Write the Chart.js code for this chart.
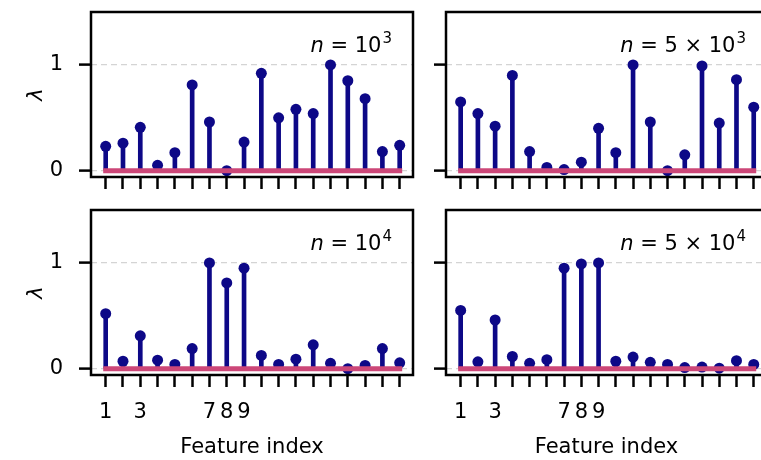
<!DOCTYPE html>
<html>
<head>
<meta charset="utf-8">
<script src="https://cdn.jsdelivr.net/npm/chart.js@4"></script>
<style>
  html, body { margin: 0; padding: 0; background: #fff; overflow: hidden; width: 761px; height: 460px; position: relative; }
  .box { position: absolute; overflow: visible; }
</style>
</head>
<body>
<div class="box" style="left:0;top:0;width:420px;height:200px"><canvas id="p1" width="420" height="200"></canvas></div>
<div class="box" style="left:420px;top:0;width:360px;height:200px"><canvas id="p2" width="360" height="200"></canvas></div>
<div class="box" style="left:0;top:200px;width:420px;height:260px"><canvas id="p3" width="420" height="260"></canvas></div>
<div class="box" style="left:420px;top:200px;width:360px;height:260px"><canvas id="p4" width="360" height="260"></canvas></div>
<script>
// feature indices and estimated lambda per sample size
const features = [1, 2, 3, 4, 5, 6, 7, 8, 9, 10, 11, 12, 13, 14, 15, 16, 17, 18];
const lambda_1e3 = [0.23, 0.26, 0.41, 0.05, 0.17, 0.81, 0.46, 0.00, 0.27, 0.92, 0.50, 0.58, 0.54, 1.00, 0.85, 0.68, 0.18, 0.24];
const lambda_5e3 = [0.65, 0.54, 0.42, 0.90, 0.18, 0.03, 0.01, 0.08, 0.40, 0.17, 1.00, 0.46, 0.00, 0.15, 0.99, 0.45, 0.86, 0.60];
const lambda_1e4 = [0.52, 0.07, 0.31, 0.08, 0.04, 0.19, 1.00, 0.81, 0.95, 0.125, 0.04, 0.09, 0.225, 0.05, 0.00, 0.03, 0.19, 0.055];
const lambda_5e4 = [0.55, 0.065, 0.46, 0.115, 0.05, 0.085, 0.95, 0.99, 1.00, 0.07, 0.11, 0.06, 0.04, 0.01, 0.015, 0.005, 0.075, 0.04];
const xTickLabels = [1, 3, 7, 8, 9];
const yTicks = [0, 1];

const navy = '#0d0887';
const pink = '#cc4778';
Chart.defaults.font.family = 'DejaVu Sans';
Chart.defaults.color = '#000';

// box around the plot area + the "n = ..." annotation
const frame = {
  id: 'frame',
  afterDraw(chart, args, opts) {
    const { ctx, chartArea: a } = chart;
    ctx.save();
    ctx.lineWidth = 2.5;
    ctx.strokeStyle = '#000';
    ctx.strokeRect(a.left, a.top, a.right - a.left, a.bottom - a.top);

    const base = a.top + 40;
    const fMain = '21px "DejaVu Sans"';
    const fIt = 'italic 21px "DejaVu Sans"';
    const fSup = '15px "DejaVu Sans"';
    ctx.fillStyle = '#000';
    ctx.textBaseline = 'alphabetic';
    ctx.font = fIt; const wN = ctx.measureText('n').width;
    ctx.font = fMain; const wM = ctx.measureText(opts.main).width;
    ctx.font = fSup; const wS = ctx.measureText(opts.sup).width;
    let x = a.right - 21 - (wN + wM + wS + 1);
    ctx.font = fIt; ctx.fillText('n', x, base); x += wN;
    ctx.font = fMain; ctx.fillText(opts.main, x, base); x += wM + 1;
    ctx.font = fSup; ctx.fillText(opts.sup, x, base - 9);
    ctx.restore();
  }
};

function panel(id, values, label, isLeft, isBottom) {
  const pts = features.map((f, i) => ({ x: f, y: values[i] }));
  const font = { size: 21 };
  new Chart(document.getElementById(id), {
    type: 'bar',
    data: {
      datasets: [
        {
          type: 'line',
          data: [{ x: features[0], y: 0 }, { x: features[features.length - 1], y: 0 }],
          borderColor: pink, borderWidth: 5, borderCapStyle: 'square',
          pointRadius: 0, order: 0
        },
        {
          type: 'scatter',
          data: pts,
          backgroundColor: navy, borderWidth: 0, pointRadius: 5.5, order: 1
        },
        {
          type: 'bar',
          data: pts,
          backgroundColor: navy, borderWidth: 0, barThickness: 4, order: 2
        }
      ]
    },
    options: {
      responsive: false,
      maintainAspectRatio: false,
      animation: false,
      layout: { autoPadding: false, padding: { top: isBottom ? 10 : 12, right: isLeft ? 7 : 13, left: 0, bottom: 0 } },
      plugins: {
        legend: { display: false },
        tooltip: { enabled: false },
        frame: label
      },
      scales: {
        x: {
          type: 'linear',
          offset: false,
          min: 0.15, max: 18.77,
          afterBuildTicks: s => { s.ticks = features.map(v => ({ value: v })); },
          afterFit: s => {
            s.height = isBottom ? 85 : 23;
            s.paddingLeft = 0; s.paddingRight = 0;
          },
          ticks: {
            autoSkip: false, maxRotation: 0, padding: 13, font,
            callback: v => (isBottom && xTickLabels.includes(v)) ? String(v) : ''
          },
          grid: { offset: false, drawOnChartArea: false, tickLength: 12, tickWidth: 2.5, tickColor: '#000' },
          border: { display: false },
          title: { display: isBottom, text: 'Feature index', font, padding: { top: 0, bottom: 0 } }
        },
        y: {
          min: -0.06, max: 1.5,
          afterBuildTicks: s => { s.ticks = yTicks.map(v => ({ value: v })); },
          afterFit: s => {
            s.width = isLeft ? 91 : 26;
            s.paddingTop = 0; s.paddingBottom = 0;
          },
          ticks: { padding: 16, font, callback: v => isLeft ? String(v) : '' },
          grid: { color: '#d4d4d4', lineWidth: 1.2, tickLength: 12, tickWidth: 2.5, tickColor: '#000' },
          border: { display: false, dash: [6, 4] },
          title: { display: isLeft, text: 'λ', font: { size: 21, style: 'italic' }, padding: { top: 24 } }
        }
      }
    },
    plugins: [frame]
  });
}

panel('p1', lambda_1e3, { main: ' = 10', sup: '3' }, true, false);
panel('p2', lambda_5e3, { main: ' = 5 × 10', sup: '3' }, false, false);
panel('p3', lambda_1e4, { main: ' = 10', sup: '4' }, true, true);
panel('p4', lambda_5e4, { main: ' = 5 × 10', sup: '4' }, false, true);
</script>
</body>
</html>
